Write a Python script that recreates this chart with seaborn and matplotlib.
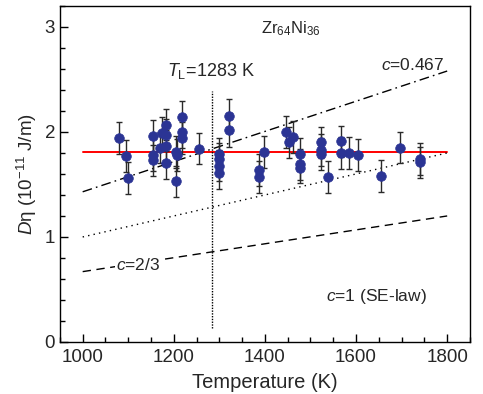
import numpy as np
import pandas as pd
import matplotlib
matplotlib.use("Agg")
import matplotlib.pyplot as plt
import seaborn as sns
from matplotlib.ticker import MultipleLocator

# ---- data ----
temps = [1080, 1096, 1100, 1155, 1155, 1155, 1170, 1175, 1182, 1182, 1182, 1182,
         1205, 1205, 1207, 1219, 1219, 1219, 1256,
         1300, 1300, 1300, 1300, 1322, 1322,
         1388, 1388, 1398, 1447, 1453, 1461, 1477, 1477, 1477,
         1523, 1523, 1523, 1538, 1566, 1566, 1585, 1604, 1654, 1696, 1740, 1740]
d_eta = [1.94, 1.77, 1.56, 1.96, 1.78, 1.73, 1.85, 1.99, 2.07, 1.97, 1.87, 1.70,
         1.81, 1.53, 1.78, 2.14, 2.00, 1.94, 1.84,
         1.79, 1.74, 1.68, 1.61, 2.15, 2.02,
         1.64, 1.57, 1.81, 2.00, 1.90, 1.95, 1.79, 1.69, 1.66,
         1.90, 1.83, 1.79, 1.57, 1.91, 1.80, 1.80, 1.78, 1.58, 1.85, 1.74, 1.71]
d_err = [0.15, 0.15, 0.15, 0.15, 0.15, 0.15, 0.15, 0.15, 0.15, 0.15, 0.15, 0.15,
         0.15, 0.15, 0.15, 0.15, 0.15, 0.15, 0.15,
         0.15, 0.15, 0.15, 0.15, 0.16, 0.16,
         0.15, 0.15, 0.15, 0.15, 0.15, 0.15, 0.15, 0.15, 0.15,
         0.15, 0.15, 0.15, 0.15, 0.15, 0.15, 0.15, 0.15, 0.15, 0.15, 0.15, 0.15]

mean_T = [1000, 1800]
mean_D = [1.81, 1.81]
line_T = [1000, 1800]
c0467_D = [1.43, 2.58]
c23_D = [1.00, 1.80]
c1_D = [0.67, 1.20]
tl_T = [1283, 1283]
tl_D = [0.13, 2.39]

xticks = [1000, 1200, 1400, 1600, 1800]
yticks = [0, 1, 2, 3]

sns.set_style("ticks")
plt.rcParams['font.family'] = ['Liberation Sans', 'DejaVu Sans']
plt.rcParams['mathtext.fontset'] = 'custom'
plt.rcParams['mathtext.rm'] = 'Liberation Sans'
plt.rcParams['mathtext.it'] = 'Liberation Sans:italic'

fig = plt.figure(figsize=(4.83, 3.94), dpi=100)
ax = fig.add_axes([0.124, 0.132, 0.849, 0.853])

df = pd.DataFrame({"T": temps, "D": d_eta, "err": d_err})

ax.errorbar(df["T"], df["D"], yerr=df["err"], fmt="none", ecolor="#2a2a2a",
            elinewidth=1.0, capsize=2.5, capthick=1.0, zorder=2)

sns.lineplot(x=mean_T, y=mean_D, ax=ax, color="red", linewidth=1.4, zorder=1)
sns.lineplot(x=line_T, y=c0467_D, ax=ax, color="black", linewidth=1.0,
             linestyle=(0, (7, 3, 1.2, 3)), zorder=1)
sns.lineplot(x=line_T, y=c23_D, ax=ax, color="black", linewidth=1.0,
             linestyle=(0, (1, 3)), zorder=1)
sns.lineplot(x=line_T, y=c1_D, ax=ax, color="black", linewidth=1.0,
             linestyle=(0, (6, 4)), zorder=1)
sns.lineplot(x=tl_T, y=tl_D, ax=ax, color="black", linewidth=1.0,
             linestyle=(0, (1, 1)), zorder=1, orient="y")

sns.scatterplot(data=df, x="T", y="D", ax=ax, color="#2b3494", s=48,
                edgecolor="#2b3494", linewidth=0.5, zorder=3)

ax.set_xlim(950, 1850)
ax.set_ylim(0, 3.2)
ax.set_xticks(xticks)
ax.set_yticks(yticks)
ax.xaxis.set_minor_locator(MultipleLocator(50))
ax.yaxis.set_minor_locator(MultipleLocator(0.2))
ax.tick_params(which="both", direction="in", labelsize=13.5, width=1.0, color="black")
ax.tick_params(which="major", length=6)
ax.tick_params(which="minor", length=3.5)
ax.tick_params(axis="x", pad=5)
for s in ax.spines.values():
    s.set_linewidth(1.0)
    s.set_color("black")

ax.set_xlabel("Temperature (K)", fontsize=14.5, labelpad=5)
ax.set_ylabel(r"$D$η (10$^{-11}$ J/m)", fontsize=13.5, labelpad=4)

ax.text(1456, 2.98, r"Zr$_{64}$Ni$_{36}$", fontsize=12, ha="center", va="center")
ax.text(1186, 2.58, r"$T_{\rm L}$=1283 K", fontsize=13, ha="left", va="center")
ax.text(1795, 2.64, r"$c$=0.467", fontsize=12.5, ha="right", va="center")
ax.text(1073, 0.73, r"$c$=2/3", fontsize=12.5, ha="left", va="center",
        bbox=dict(facecolor="white", edgecolor="none", pad=0.5))
ax.text(1535, 0.43, r"$c$=1 (SE-law)", fontsize=12.5, ha="left", va="center")

fig.savefig("out.png", dpi=100)
